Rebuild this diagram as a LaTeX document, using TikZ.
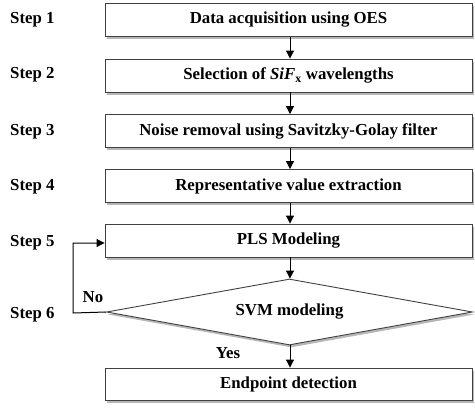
\documentclass[tikz,border=0pt]{standalone}
\usepackage{fontspec}
\setmainfont{Liberation Serif}
\usetikzlibrary{arrows.meta,shapes.geometric,shadows}
\begin{document}
\begin{tikzpicture}[x=1pt,y=-1pt,
  font=\fontsize{16.8}{19}\selectfont\bfseries,
  shade/.style={drop shadow={shadow xshift=1.5pt,shadow yshift=-2.5pt,opacity=0.4,fill=black!70}},
  stepbox/.style={draw=black!75,line width=0.9pt,fill=white,shade,minimum width=367pt,minimum height=33pt,inner sep=0pt},
  steplabel/.style={anchor=west,inner sep=0pt},
  flow/.style={line width=1pt,-{Triangle[width=8pt,length=8pt]}}]
\useasboundingbox (0,0) rectangle (475,410);

% process boxes
\node[stepbox] (b1) at (288.5,20) {Data acquisition using OES};
\node[stepbox] (b2) at (288.5,75.5) {Selection of \textit{SiF}$_{\mathbf{x}}$ wavelengths};
\node[stepbox] (b3) at (288.5,131) {Noise removal using Savitzky-Golay filter};
\node[stepbox] (b4) at (288.5,186) {Representative value extraction};
\node[stepbox] (b5) at (288.5,240.5) {PLS Modeling};
\node[diamond,draw=black!75,line width=0.9pt,fill=white,shade,aspect=5.55,
      minimum width=366pt,minimum height=66pt,inner sep=0pt] (d6) at (289.5,312) {SVM modeling};
\node[stepbox,minimum height=32pt] (b7) at (288.5,384) {Endpoint detection};

% step labels
\node[steplabel] (s1) at (10,20) {Step 1};
\node[steplabel] (s2) at (10,75) {Step 2};
\node[steplabel] (s3) at (10,132) {Step 3};
\node[steplabel] (s4) at (10,187) {Step 4};
\node[steplabel] (s5) at (10,243) {Step 5};
\node[steplabel] (s6) at (10,315) {Step 6};

% main flow, straight down the middle
\draw[flow] (b1.south -| 290,0) -- (b2.north -| 290,0);
\draw[flow] (b2.south -| 290,0) -- (b3.north -| 290,0);
\draw[flow] (b3.south -| 290,0) -- (b4.north -| 290,0);
\draw[flow] (b4.south -| 290,0) -- (b5.north -| 290,0);
\draw[flow] (b5.south -| 290,0) -- (d6.north -| 290,0);
\draw[flow] (d6.south -| 290,0) -- (b7.north -| 290,0);

% "No" loop back to the PLS step
\coordinate (lb) at (73,313);
\coordinate (lt) at (73,243);
\draw[flow] (d6.west) -- (lb) -- (lt) -- (lt -| b5.west);

% branch labels
\node[inner sep=0pt] (no) at (93,297) {No};
\node[inner sep=0pt] (yes) at (228,353) {Yes};
\end{tikzpicture}
\end{document}
